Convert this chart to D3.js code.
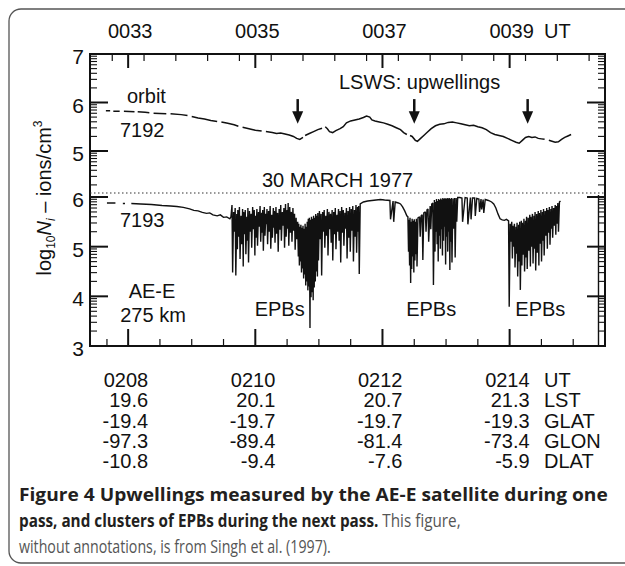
<!DOCTYPE html>
<html>
<head>
<meta charset="utf-8">
<script src="https://cdn.jsdelivr.net/npm/d3@7"></script>
<style>
  body { margin: 0; background: #fff; }
  svg { display: block; }
</style>
</head>
<body>
<div id="chart"></div>
<script>
// time ticks, seconds after 0033:00 (top) / 0208:00 (bottom)
const majorSec = [0, 120, 240, 360];
const topLabels = ["0033", "0035", "0037", "0039"];
const topMinorSec = [-15, 15, 45, 75, 105, 135, 165, 195, 225, 255, 285, 315, 345, 375, 405, 435];
const bottomMinorSec = [-20, 30, 60, 90, 150, 180, 210, 270, 300, 330, 390, 420];

// table under the plot
const rowNames = ["UT", "LST", "GLAT", "GLON", "DLAT"];
const utRow = ["0208", "0210", "0212", "0214"];
const lstRow = ["19.6", "20.1", "20.7", "21.3"];
const glatRow = ["-19.4", "-19.7", "-19.7", "-19.3"];
const glonRow = ["-97.3", "-89.4", "-81.4", "-73.4"];
const dlatRow = ["-10.8", "-9.4", "-7.6", "-5.9"];

const upperTicks = [7, 6, 5];
const lowerTicks = [6, 5, 4, 3];

const upwellingSec = [160, 270, 377];
const epbSec = [143, 286, 389];

// orbit 7192, log10 Ni, null = data gap
const orbit7192 = [
  [-21, 5.83], [-17, 5.83], null, [-14, 5.82], [-8, 5.82], null, [-4, 5.82], [6, 5.81], null,
  [9, 5.81], [16, 5.80], [20, 5.79], null, [24, 5.78], [36, 5.77], null, [40, 5.77], [50, 5.75],
  [56, 5.73], null, [60, 5.71], [66, 5.68], [72, 5.66], [78, 5.63], [84, 5.61], null, [88, 5.60],
  [94, 5.57], [100, 5.54], [104, 5.51], null, [108, 5.49], [114, 5.46], [120, 5.43], [126, 5.41], null,
  [130, 5.40], [136, 5.38], [140, 5.36], [144, 5.37], [148, 5.35], [152, 5.33], [156, 5.30], [159, 5.26],
  [162, 5.24], [165, 5.28], null, [167, 5.32], [171, 5.36], [175, 5.40], [179, 5.44], [183, 5.47], null,
  [186, 5.50], [188, 5.46], [190, 5.40], [193, 5.38], [196, 5.42], [200, 5.46], [203, 5.50], [206, 5.58],
  [210, 5.62], [214, 5.64], [218, 5.66], [222, 5.69], [225, 5.72], [228, 5.70], [230, 5.64], [233, 5.62],
  [237, 5.60], [241, 5.58], [245, 5.55], [249, 5.52], [253, 5.48], [257, 5.44], [260, 5.38], [263, 5.34], null,
  [266, 5.32], [268, 5.30], [271, 5.22], [273, 5.20], [276, 5.26], [279, 5.32], [282, 5.38], [286, 5.46],
  [290, 5.52], [294, 5.55], [298, 5.56], [302, 5.59], [306, 5.60], [310, 5.58], [314, 5.56], [318, 5.54],
  [322, 5.52], [326, 5.53], [330, 5.50], [334, 5.48], [338, 5.44], [342, 5.38], [346, 5.34], [350, 5.32],
  [354, 5.30], [358, 5.26], [362, 5.22], [366, 5.18], [369, 5.16], [372, 5.22], [375, 5.28], [378, 5.30],
  [381, 5.28], [384, 5.29], [387, 5.26], [390, 5.25], [393, 5.24], null, [397, 5.22], [400, 5.20],
  [403, 5.18], [406, 5.19], [409, 5.24], [412, 5.28], [415, 5.31], [418, 5.34]
];

// orbit 7193: [sec, value] or spike [sec, top, bottom]
const orbit7193 = [
  [-20, 5.88], [-12, 5.88], null, [-5, 5.87], [-3, 5.87], null, [3, 5.87], [12, 5.86], [22, 5.85],
  [32, 5.83], [40, 5.82], [46, 5.81], [52, 5.79], [58, 5.76], [62, 5.73], [66, 5.72], [70, 5.69],
  [74, 5.67], [77, 5.68], [80, 5.64], [84, 5.62], [87, 5.64], [90, 5.59], [93, 5.60], [96, 5.56],
  // EPB cluster 1
  [97, 5.60], [98, 5.84, 4.48], [99.5, 5.70, 5.30], [101, 5.78, 4.42], [102.5, 5.66, 4.95],
  [103.5, 5.74, 5.20], [105, 5.80, 4.75], [106.5, 5.62, 5.05], [108, 5.76, 4.60], [109, 5.70, 5.25],
  [110.5, 5.74, 4.85], [112, 5.60, 5.12], [113, 5.78, 4.68], [114.5, 5.72, 5.30], [116, 5.66, 4.98],
  [117.5, 5.80, 5.35], [119, 5.74, 4.82], [120, 5.62, 5.18], [121.5, 5.76, 5.02], [123, 5.70, 5.40],
  [124.5, 5.82, 5.10], [126, 5.68, 5.28], [127, 5.74, 4.92], [128.5, 5.80, 5.22], [130, 5.66, 5.45],
  [131, 5.76, 5.05], [132.5, 5.72, 5.30], [134, 5.82, 4.96], [135.5, 5.64, 5.18], [137, 5.78, 5.38],
  [138, 5.72, 5.08], [139.5, 5.80, 5.26], [141, 5.68, 4.90], [142.5, 5.76, 5.34], [144, 5.84, 5.12],
  [145.5, 5.70, 5.42], [147, 5.78, 4.98], [148.5, 5.86, 5.20], [150, 5.74, 5.36], [151, 5.88, 5.02],
  [152.5, 5.80, 5.28], [154, 5.70, 5.10], [155.5, 5.78, 5.32], [157, 5.66, 4.94], [158.5, 5.58, 5.15],
  [160, 5.50, 4.80], [161, 5.46, 4.62], [162, 5.40, 4.70], [163, 5.44, 4.48], [164, 5.38, 4.56],
  [165, 5.42, 4.36], [166, 5.36, 4.44], [167, 5.46, 4.22], [168, 5.40, 4.30], [169, 5.50, 4.12],
  [170, 5.56, 4.20], [171, 5.58, 3.36], [172, 5.54, 3.98], [173, 5.60, 4.08], [174, 5.56, 3.92],
  [175, 5.62, 4.18], [176, 5.58, 4.30], [177, 5.66, 4.50], [178, 5.62, 4.40], [179, 5.68, 4.72],
  [180.5, 5.72, 5.15], [182, 5.66, 4.42], [183.5, 5.70, 5.30], [185, 5.74, 4.98], [186.5, 5.62, 5.22],
  [188, 5.76, 4.82], [189.5, 5.70, 5.35], [191, 5.66, 5.08], [192.5, 5.74, 4.72], [194, 5.70, 5.25],
  [195.5, 5.78, 4.95], [197, 5.64, 5.30], [198.5, 5.76, 5.12], [200, 5.72, 4.68], [201.5, 5.80, 5.28],
  [203, 5.74, 5.02], [204.5, 5.68, 5.36], [206, 5.78, 4.76], [207.5, 5.72, 5.18], [209, 5.80, 4.90],
  [210.5, 5.76, 5.32], [212, 5.82, 4.70], [213.5, 5.74, 5.20], [215, 5.84, 4.88], [216.5, 5.80, 5.30],
  [217.5, 5.82, 4.45],
  [219, 5.86], [222, 5.90], [226, 5.92], [230, 5.93], [234, 5.94], [238, 5.95], [242, 5.94],
  [247, 5.93, 5.55], [250, 5.92, 5.50], [252, 5.90], [255, 5.88], [257, 5.86], [259, 5.80],
  [261, 5.72], [263, 5.62],
  // EPB cluster 2
  [264, 5.60, 4.90], [265, 5.54, 4.62], [266, 5.58, 4.27], [267, 5.50, 4.55], [268, 5.56, 4.80],
  [269, 5.52, 4.48], [270, 5.55, 4.72], [271, 5.50, 4.85], [272, 5.56, 4.60], [273.5, 5.58],
  [275, 5.60, 5.20], [276.5, 5.62], [277.5, 5.64, 4.73], [279, 5.68], [280.5, 5.70, 5.30], [282, 5.74],
  [283, 5.76, 5.10], [285, 5.82, 5.35], [286.5, 5.86], [287.5, 5.88, 4.23], [289, 5.94, 4.90],
  [290, 5.90, 5.30], [291, 5.96, 5.05], [292, 5.92, 4.70], [293, 5.96, 5.22], [294, 5.94, 4.96],
  [295, 5.97, 5.35], [296, 5.95, 4.82], [297, 5.98, 5.12], [298, 5.96, 5.40], [299, 5.98, 4.64],
  [300, 5.96, 5.20], [301, 5.98, 4.90], [302, 5.97, 5.30], [303, 5.98, 4.53], [304, 5.96, 5.10],
  [305, 5.98, 4.68], [306.5, 5.97, 5.36], [308, 5.98, 4.78], [309.5, 5.98, 5.50], [311, 5.99],
  [313, 5.99], [315, 5.98, 5.50], [318, 5.99], [320, 5.98, 5.45], [323, 5.99, 5.55], [325, 5.98],
  [327, 5.98, 5.62], [329, 5.97], [331, 5.96, 5.70], [333, 5.96, 5.75], [335, 5.95, 5.68],
  [337, 5.95], [340, 5.93], [343, 5.90], [345, 5.86], [347, 5.78], [349, 5.66], [351, 5.56],
  [353, 5.54], [355, 5.53], [357, 5.55],
  // EPB cluster 3
  [359, 5.52, 3.79], [360.5, 5.46, 5.10], [362, 5.50, 4.76], [363, 5.42, 5.00], [364.5, 5.46, 4.58],
  [366, 5.40, 4.86], [367, 5.48, 4.40], [368.5, 5.44, 4.70], [369.5, 5.50, 4.13], [371, 5.52, 4.62],
  [372, 5.48, 4.84], [373.5, 5.56, 4.50], [375, 5.52, 4.78], [376, 5.60, 4.55], [377.5, 5.58, 4.92],
  [379, 5.64, 4.60], [380, 5.60, 5.00], [381.5, 5.66, 4.66], [383, 5.62, 4.96], [384, 5.70, 4.52],
  [385.5, 5.66, 4.88], [387, 5.72, 4.62], [388, 5.68, 5.06], [389.5, 5.74, 4.70], [391, 5.70, 5.12],
  [392, 5.76, 4.82], [393.5, 5.72, 5.22], [395, 5.78, 4.96], [396, 5.74, 5.28], [397.5, 5.80, 5.04],
  [399, 5.76, 5.36], [400, 5.82, 5.18], [401.5, 5.78, 5.42], [403, 5.84, 5.24], [404, 5.82, 5.46],
  [405.5, 5.88, 5.30], [407, 5.90], [408, 5.92]
];

const width = 625;
const height = 566;
const font = "'Liberation Sans', Arial, sans-serif";
const ink = "#111";

const svg = d3.select("#chart")
  .append("svg")
  .attr("width", width)
  .attr("height", height)
  .style("font-family", font);

// panel border, runs off the right edge like the source page
svg.append("rect")
  .attr("x", 9).attr("y", 9)
  .attr("width", 640).attr("height", 554)
  .attr("rx", 12)
  .attr("fill", "none")
  .attr("stroke", "#555")
  .attr("stroke-width", 1.3);

const x = d3.scaleLinear().domain([-36, 450]).range([90, 605]);
const yUp = d3.scaleLinear().domain([5, 7]).range([151, 54]);
const yLow = d3.scaleLinear().domain([3, 6]).range([346, 197]);
const sepY = 193;

const plot = svg.append("g");

// frame
plot.append("rect")
  .attr("x", x.range()[0]).attr("y", yUp(7))
  .attr("width", x.range()[1] - x.range()[0])
  .attr("height", yLow(3) - yUp(7))
  .attr("fill", "none")
  .attr("stroke", ink)
  .attr("stroke-width", 2);

plot.append("line")
  .attr("x1", 598.5).attr("x2", 598.5)
  .attr("y1", yLow(6) - 2).attr("y2", yLow(3))
  .attr("stroke", ink).attr("stroke-width", 1.4);

// dotted separator
plot.append("line")
  .attr("x1", x.range()[0]).attr("x2", x.range()[1])
  .attr("y1", sepY).attr("y2", sepY)
  .attr("stroke", "#333")
  .attr("stroke-width", 1.2)
  .attr("stroke-dasharray", "1.5,2.5");

// time ticks
const xl = x.range()[0], xr = x.range()[1];
const yt = yUp(7), yb = yLow(3);
plot.selectAll(".tmaj").data(majorSec).join("line")
  .attr("x1", d => x(d)).attr("x2", d => x(d))
  .attr("y1", yt).attr("y2", yt + 14)
  .attr("stroke", ink).attr("stroke-width", 2);
plot.selectAll(".tmin").data(topMinorSec).join("line")
  .attr("x1", d => x(d)).attr("x2", d => x(d))
  .attr("y1", yt).attr("y2", yt + 7)
  .attr("stroke", ink).attr("stroke-width", 1.2);
plot.selectAll(".bmaj").data(majorSec).join("line")
  .attr("x1", d => x(d)).attr("x2", d => x(d))
  .attr("y1", yb).attr("y2", yb - 17)
  .attr("stroke", ink).attr("stroke-width", 2);
plot.selectAll(".bmin").data(bottomMinorSec).join("line")
  .attr("x1", d => x(d)).attr("x2", d => x(d))
  .attr("y1", yb).attr("y2", yb - 7)
  .attr("stroke", ink).attr("stroke-width", 1.2);

// log10 axes, both sides
function logMinors(decades, top) {
  const out = [];
  decades.forEach(d => {
    for (let k = 2; k <= 9; k++) {
      const v = d + Math.log10(k);
      if (v < top) out.push(v);
    }
  });
  return out;
}
const upperMinor = logMinors([4, 5, 6], 7).filter(v => yUp(v) < sepY - 1);
const lowerMinor = logMinors([3, 4, 5], 6);

function yTicks(values, scale, len, w) {
  [[xl, 1], [xr, -1]].forEach(([x0, dir]) => {
    plot.append("g").selectAll("line").data(values).join("line")
      .attr("x1", x0).attr("x2", x0 + dir * len)
      .attr("y1", d => scale(d)).attr("y2", d => scale(d))
      .attr("stroke", ink).attr("stroke-width", w);
  });
}
yTicks(upperTicks, yUp, 18, 2);
yTicks(lowerTicks, yLow, 18, 2);
yTicks(upperMinor, yUp, 7, 1.1);
yTicks(lowerMinor, yLow, 7, 1.1);

plot.selectAll(".ylabU").data(upperTicks).join("text")
  .attr("x", 84).attr("y", d => yUp(d) + 10)
  .attr("text-anchor", "end")
  .attr("font-size", 21)
  .attr("fill", ink)
  .text(d => d);
plot.selectAll(".ylabL").data(lowerTicks).join("text")
  .attr("x", 84).attr("y", d => yLow(d) + 10)
  .attr("text-anchor", "end")
  .attr("font-size", 21)
  .attr("fill", ink)
  .text(d => d);

// top UT labels
svg.selectAll(".toplab").data(topLabels).join("text")
  .attr("x", (d, i) => x(majorSec[i]) + 2)
  .attr("y", 38)
  .attr("text-anchor", "middle")
  .attr("font-size", 20)
  .attr("fill", ink)
  .text(d => d);
svg.append("text")
  .attr("x", 544).attr("y", 38)
  .attr("font-size", 20).attr("fill", ink)
  .text("UT");

// traces
const lineUp = d3.line()
  .defined(d => d !== null)
  .x(d => x(d[0]))
  .y(d => yUp(d[1]));
plot.append("path")
  .attr("d", lineUp(orbit7192))
  .attr("fill", "none")
  .attr("stroke", ink)
  .attr("stroke-width", 1.5);

const pts7193 = [];
orbit7193.forEach(d => {
  if (d === null) pts7193.push(null);
  else if (d.length === 3) {
    pts7193.push([d[0], d[1]]);
    pts7193.push([d[0] + 0.6, d[2]]);
  } else pts7193.push(d);
});
const lineLow = d3.line()
  .defined(d => d !== null)
  .x(d => x(d[0]))
  .y(d => yLow(d[1]));
plot.append("path")
  .attr("d", lineLow(pts7193))
  .attr("fill", "none")
  .attr("stroke", ink)
  .attr("stroke-width", 1.4)
  .attr("stroke-linejoin", "miter")
  .attr("stroke-miterlimit", 2);

// upwelling arrows
const arrows = plot.selectAll(".arrow").data(upwellingSec).join("g");
arrows.append("line")
  .attr("x1", d => x(d)).attr("x2", d => x(d))
  .attr("y1", yUp(6.07)).attr("y2", yUp(5.80))
  .attr("stroke", ink).attr("stroke-width", 2.5);
arrows.append("path")
  .attr("d", d => `M${x(d) - 5.5},${yUp(5.82)}L${x(d) + 5.5},${yUp(5.82)}L${x(d)},${yUp(5.56)}Z`)
  .attr("fill", ink);

// annotations
const note = (tx, ty, str, anchor) => svg.append("text")
  .attr("x", tx).attr("y", ty)
  .attr("text-anchor", anchor || "start")
  .attr("font-size", 20)
  .attr("fill", ink)
  .text(str);
note(127, 103, "orbit");
note(120, 137, "7192");
note(339, 89, "LSWS: upwellings");
note(262, 187, "30 MARCH 1977");
note(120, 227, "7193");
note(152, 298, "AE-E", "middle");
note(153, 322, "275 km", "middle");
epbSec.forEach(s => note(x(s), 316, "EPBs", "middle"));

// y axis title
const yTitle = svg.append("text")
  .attr("transform", "translate(51,198) rotate(-90)")
  .attr("text-anchor", "middle")
  .attr("font-size", 20)
  .attr("fill", ink);
yTitle.append("tspan").text("log");
yTitle.append("tspan").attr("font-size", 12).attr("dy", 4).text("10");
yTitle.append("tspan").attr("font-style", "italic").attr("dy", -4).text("N");
yTitle.append("tspan").attr("font-style", "italic").attr("font-size", 12).attr("dy", 4).text("i");
yTitle.append("tspan").attr("dy", -4).text(" \u2013 ions/cm");
yTitle.append("tspan").attr("font-size", 12).attr("dy", -9).text("3");

// table below the plot
const rows = [utRow, lstRow, glatRow, glonRow, dlatRow];
const rowY = [387, 407, 428, 448, 468];
rows.forEach((row, i) => {
  svg.append("g").selectAll("text").data(row).join("text")
    .attr("x", (d, j) => x(majorSec[j]) + 20)
    .attr("y", rowY[i])
    .attr("text-anchor", "end")
    .attr("font-size", 20)
    .attr("fill", ink)
    .text(d => d);
  svg.append("text")
    .attr("x", 544).attr("y", rowY[i])
    .attr("font-size", 20).attr("fill", ink)
    .text(rowNames[i]);
});

// caption
const capFont = "'Open Sans', 'Noto Sans', sans-serif";
function captionLine(y, parts, right) {
  const t = svg.append("text")
    .attr("font-family", capFont)
    .attr("font-size", 18.5);
  parts.forEach(p => t.append("tspan")
    .attr("font-weight", p.bold ? 700 : 400)
    .attr("fill", p.bold ? "#231f20" : "#555")
    .text(p.text));
  const w = t.node().getComputedTextLength();
  t.attr("transform", `translate(19,${y}) scale(${(right - 19) / w},1)`);
}
captionLine(501, [{ text: "Figure 4 Upwellings measured by the AE-E satellite during one", bold: true }], 608);
captionLine(527, [
  { text: "pass, and clusters of EPBs during the next pass.", bold: true },
  { text: " This figure,", bold: false }
], 461);
captionLine(553, [{ text: "without annotations, is from Singh et al. (1997).", bold: false }], 331);
</script>
</body>
</html>
